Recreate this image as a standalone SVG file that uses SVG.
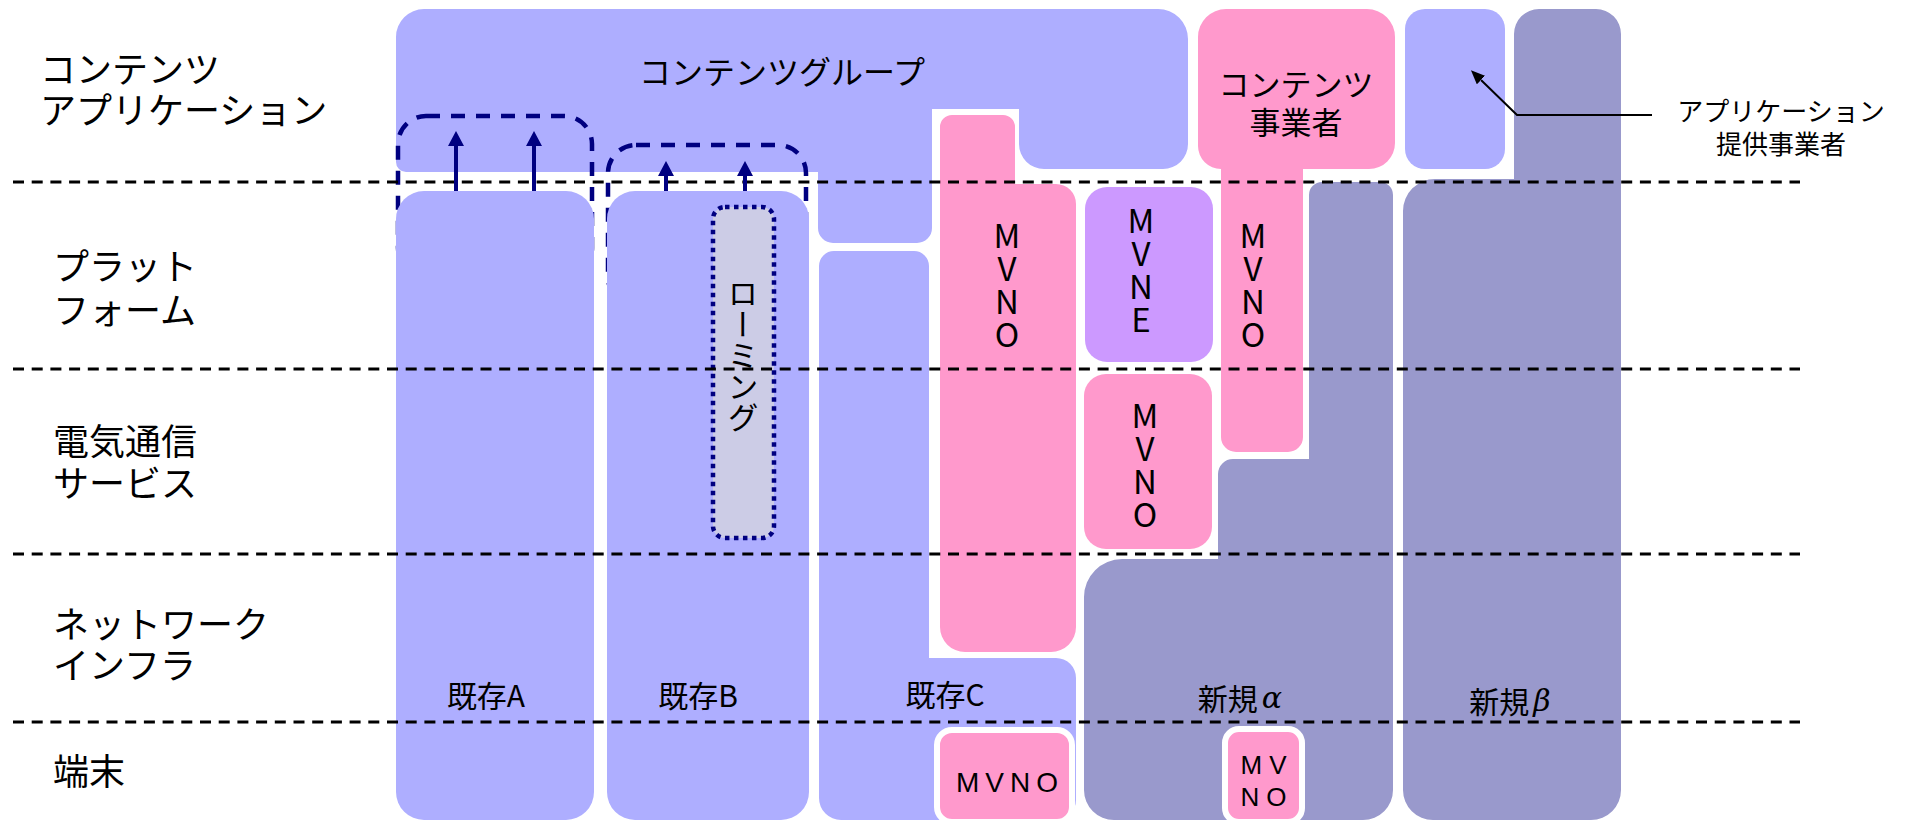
<svg xmlns="http://www.w3.org/2000/svg" width="1906" height="822" viewBox="0 0 1906 822">
<style>
text{font-family:"Noto Sans CJK JP","Noto Sans",sans-serif;fill:#000;}
.lay{font-size:36px;}
.blue{fill:#AEAEFF;}
.pink{fill:#FF99CC;}
.purple{fill:#CC99FF;}
.dark{fill:#9999CC;}
.lbl{font-size:30px;text-anchor:middle;dominant-baseline:central;}
.vl{font-family:"Noto Sans CJK JP",sans-serif;font-size:33px;text-anchor:middle;writing-mode:vertical-rl;text-orientation:upright;}
.hl{font-family:"Liberation Sans","Noto Sans",sans-serif;text-anchor:middle;}
.dbox{fill:none;stroke:#000080;stroke-width:4.5;stroke-dasharray:14 11;}
.wb{stroke:#fff;stroke-width:6;}
.sep{stroke:#000;stroke-width:3;stroke-dasharray:11 7.7;}
.arr{stroke:#000080;stroke-width:4;fill:none;}
</style>
<defs>
<marker id="ah" viewBox="0 0 15 16" refX="0" refY="8" markerWidth="15" markerHeight="16" markerUnits="userSpaceOnUse" orient="auto">
<path d="M0,0 L15,8 L0,16 Z" fill="#000080"/>
</marker>
<marker id="ahk" viewBox="0 0 14 12" refX="0" refY="6" markerWidth="14" markerHeight="12" markerUnits="userSpaceOnUse" orient="auto">
<path d="M0,0 L14,6 L0,12 Z" fill="#000"/>
</marker>
</defs>

<g id="layer-labels">
<text class="lay" x="40" y="83">コンテンツ<tspan x="40" dy="41">アプリケーション</tspan></text>
<text class="lay" x="53" y="280">プラット<tspan x="53" dy="44">フォーム</tspan></text>
<text class="lay" x="53" y="455">電気通信<tspan x="53" dy="42">サービス</tspan></text>
<text class="lay" x="53" y="638">ネットワーク<tspan x="53" dy="41">インフラ</tspan></text>
<text class="lay" x="53" y="785">端末</text>
</g>

<g id="contents-group">
<path class="blue" d="M424,9 H1158 A30 30 0 0 1 1188,39 V144 A25 25 0 0 1 1163,169 H1044 A25 25 0 0 1 1019,144 V109 H932 V228 A15 15 0 0 1 917,243 H833 A15 15 0 0 1 818,228 V172 H406 A10 10 0 0 1 396,162 V37 A28 28 0 0 1 424,9 Z"/>
<text x="782" y="70" font-size="32" text-anchor="middle" dominant-baseline="central">コンテンツグループ</text>
</g>

<g id="dashed-group-a"><rect class="dbox" x="398" y="116" width="194" height="160" rx="28"/></g>
<g id="dashed-group-b"><rect class="dbox" x="608" y="145" width="198" height="160" rx="28"/></g>

<g id="kizon-a">
<rect class="blue" x="396" y="191" width="198" height="629" rx="28"/>
<text class="lbl" x="486" y="694">既存A</text>
</g>

<g id="kizon-b">
<rect class="blue" x="607" y="191" width="202" height="629" rx="28"/>
<text class="lbl" x="698" y="694">既存B</text>
</g>

<g id="roaming">
<rect x="713" y="207" width="61" height="331" rx="12" fill="#CCCCE6" stroke="#000080" stroke-width="4.5" stroke-dasharray="4.5 4.5"/>
<text x="743" y="355" font-size="31" writing-mode="vertical-rl" text-anchor="middle">ローミング</text>
</g>

<g id="kizon-c">
<path class="blue" d="M834,251 H914 A15 15 0 0 1 929,266 V658 H1056 A20 20 0 0 1 1076,678 V800 A20 20 0 0 1 1056,820 H841 A22 22 0 0 1 819,798 V266 A15 15 0 0 1 834,251 Z"/>
<text class="lbl" x="945" y="693">既存C</text>
</g>

<g id="mvno-c-terminal">
<rect class="pink wb" x="937" y="730" width="135" height="92" rx="15"/>
<text class="hl" x="1010" y="792" font-size="28" letter-spacing="6">MVNO</text>
</g>

<g id="mvno-c">
<path class="pink" d="M952,115 H1003 A12 12 0 0 1 1015,127 V184 H1056 A20 20 0 0 1 1076,204 V627 A25 25 0 0 1 1051,652 H965 A25 25 0 0 1 940,627 V127 A12 12 0 0 1 952,115 Z"/>
<text class="vl" x="1007" y="285">MVNO</text>
</g>

<g id="contents-provider">
<path class="pink" d="M1226,9 H1367 A28 28 0 0 1 1395,37 V143 A26 26 0 0 1 1369,169 H1303 V437 A15 15 0 0 1 1288,452 H1236 A15 15 0 0 1 1221,437 V169 A23 23 0 0 1 1198,146 V37 A28 28 0 0 1 1226,9 Z"/>
<text x="1296" y="96" font-size="31" text-anchor="middle">コンテンツ<tspan x="1296" dy="38">事業者</tspan></text>
<text class="vl" x="1253" y="285">MVNO</text>
</g>

<g id="mvne">
<rect class="purple" x="1085" y="187" width="128" height="175" rx="22"/>
<text class="vl" x="1141" y="270">MVNE</text>
</g>

<g id="mvno-alpha">
<rect class="pink" x="1084" y="374" width="128" height="175" rx="22"/>
<text class="vl" x="1145" y="465">MVNO</text>
</g>

<g id="shinki-alpha">
<path class="dark" d="M1322,182 H1380 A13 13 0 0 1 1393,195 V790 A30 30 0 0 1 1363,820 H1114 A30 30 0 0 1 1084,790 V597 A38 38 0 0 1 1122,559 H1218 V474 A15 15 0 0 1 1233,459 H1309 V195 A13 13 0 0 1 1322,182 Z"/>
<text class="lbl" x="1240" y="697">新規<tspan dx="4" font-family="DejaVu Serif" font-style="italic">α</tspan></text>
</g>

<g id="mvno-alpha-terminal">
<rect class="pink wb" x="1225" y="729" width="77" height="93" rx="14"/>
<text class="hl" font-size="26" letter-spacing="7" x="1267" y="774">MV<tspan x="1267" dy="32">NO</tspan></text>
</g>

<g id="app-provider">
<rect class="blue" x="1405" y="9" width="100" height="160" rx="20"/>
</g>

<g id="shinki-beta">
<path class="dark" d="M1539,9 H1596 A25 25 0 0 1 1621,34 V790 A30 30 0 0 1 1591,820 H1433 A30 30 0 0 1 1403,790 V211 A32 32 0 0 1 1435,179 H1514 V34 A25 25 0 0 1 1539,9 Z"/>
<text class="lbl" x="1510" y="700">新規<tspan dx="4" font-family="DejaVu Serif" font-style="italic">β</tspan></text>
</g>

<g id="app-provider-label">
<text x="1781" y="121" font-size="26" text-anchor="middle">アプリケーション<tspan x="1781" dy="33">提供事業者</tspan></text>
</g>

<g id="layer-lines">
<line class="sep" x1="13" y1="182" x2="1800" y2="182"/>
<line class="sep" x1="13" y1="369" x2="1800" y2="369"/>
<line class="sep" x1="13" y1="554" x2="1800" y2="554"/>
<line class="sep" x1="13" y1="722" x2="1800" y2="722"/>
</g>

<g id="connectors">
<line class="arr" x1="456" y1="191" x2="456" y2="146" marker-end="url(#ah)"/>
<line class="arr" x1="534" y1="191" x2="534" y2="146" marker-end="url(#ah)"/>
<line class="arr" x1="666" y1="191" x2="666" y2="176" marker-end="url(#ah)"/>
<line class="arr" x1="745" y1="191" x2="745" y2="176" marker-end="url(#ah)"/>
<polyline points="1652,115 1517,115 1481,80" fill="none" stroke="#000" stroke-width="2" marker-end="url(#ahk)"/>
</g>
</svg>
